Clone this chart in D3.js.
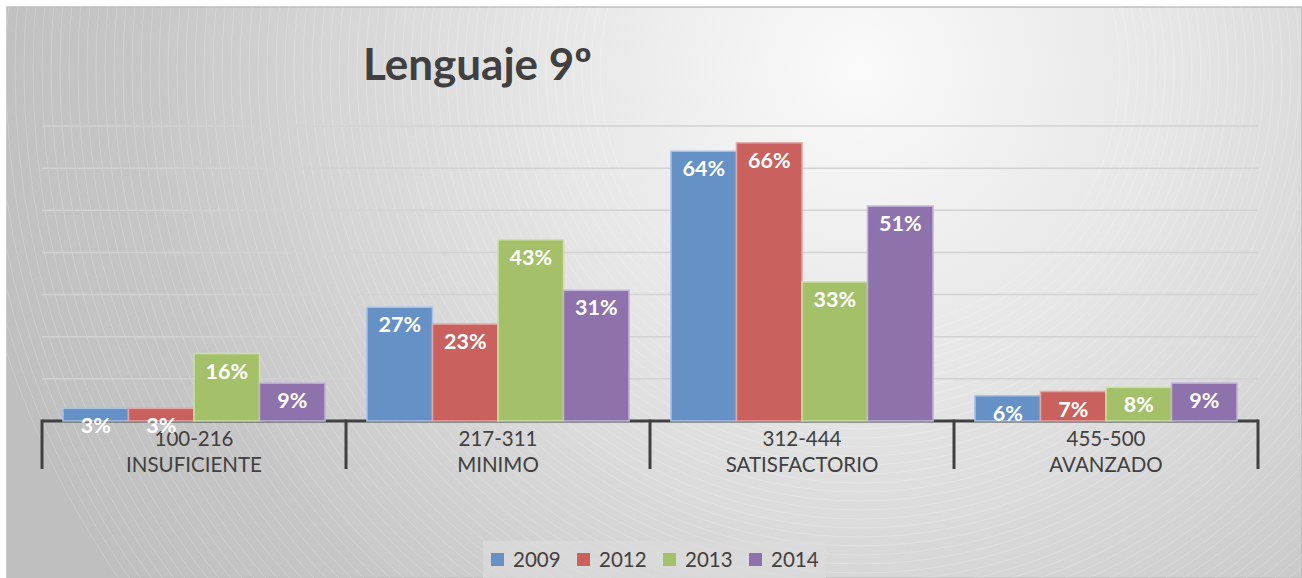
<!DOCTYPE html>
<html>
<head>
<meta charset="utf-8">
<script src="https://cdn.jsdelivr.net/npm/d3@7"></script>
<style>
  body { margin: 0; background: #fff; }
  text { font-family: Lato, "Open Sans", sans-serif; }
</style>
</head>
<body>
<div id="chart"></div>
<script>
var categories = ["100-216|INSUFICIENTE", "217-311|MINIMO", "312-444|SATISFACTORIO", "455-500|AVANZADO"]
var years = ["2009", "2012", "2013", "2014"]
var v2009 = [0.03, 0.27, 0.64, 0.06]
var v2012 = [0.03, 0.23, 0.66, 0.07]
var v2013 = [0.16, 0.43, 0.33, 0.08]
var v2014 = [0.09, 0.31, 0.51, 0.09]
var gridTicks = [0.1, 0.2, 0.3, 0.4, 0.5, 0.6, 0.7]

var colors = ["#6591c6", "#c9625e", "#a4c16a", "#8d72ab"]
var borders = ["#a9c2e3", "#e3a5a3", "#cde0a9", "#c5b4d8"]
var series = [v2009, v2012, v2013, v2014]

var W = 1302, H = 578
var svg = d3.select("#chart").append("svg")
    .attr("width", W).attr("height", H)

var defs = svg.append("defs")
var grad = defs.append("radialGradient")
    .attr("id", "bg").attr("gradientUnits", "userSpaceOnUse")
    .attr("cx", 860).attr("cy", 70).attr("r", 900)
grad.append("stop").attr("offset", "0").attr("stop-color", "#fafafa")
grad.append("stop").attr("offset", "0.35").attr("stop-color", "#e6e6e6")
grad.append("stop").attr("offset", "0.8").attr("stop-color", "#c6c6c6")
grad.append("stop").attr("offset", "1").attr("stop-color", "#bfbfbf")
defs.append("clipPath").attr("id", "clip")
    .append("rect").attr("x", 7).attr("y", 7).attr("width", W - 7).attr("height", H - 7)

svg.append("rect")
    .attr("x", 7).attr("y", 7).attr("width", W - 7).attr("height", H - 7)
    .attr("fill", "url(#bg)")
    .attr("stroke", "#bdbdbd").attr("stroke-width", 1.5)

// faint arc texture
var arcs = svg.append("g").attr("clip-path", "url(#clip)")
for (var r = 260; r < 900; r += 9) {
    arcs.append("circle")
        .attr("cx", 860).attr("cy", 70).attr("r", r)
        .attr("fill", "none")
        .attr("stroke", "#ffffff")
        .attr("stroke-opacity", 0.25)
        .attr("stroke-width", 0.8)
}

var x = d3.scaleBand().domain(categories).range([42, 1258])
var xs = d3.scaleBand().domain(years).range([0, x.bandwidth()]).paddingOuter(0.32)
var y = d3.scaleLinear().domain([0, 0.7]).range([421, 126])

// gridlines
svg.append("g").selectAll("line")
    .data(gridTicks).enter().append("line")
    .attr("x1", 42).attr("x2", 1258)
    .attr("y1", function(d) { return y(d) }).attr("y2", function(d) { return y(d) })
    .attr("stroke", "#d2d2d2").attr("stroke-width", 1.5)

// title
svg.append("text")
    .attr("x", 363).attr("y", 80)
    .attr("font-size", 44).attr("font-weight", "bold")
    .attr("fill", "#404040")
    .text("Lenguaje 9º")

// axis line and tick marks
var axis = svg.append("g")
axis.append("line")
    .attr("x1", x.range()[0]).attr("x2", x.range()[1])
    .attr("y1", y(0)).attr("y2", y(0))
    .attr("stroke", "#404040").attr("stroke-width", 3)
var bounds = categories.map(function(c) { return x(c) }).concat([x.range()[1]])
axis.selectAll(".tick")
    .data(bounds).enter().append("line")
    .attr("x1", function(d) { return d }).attr("x2", function(d) { return d })
    .attr("y1", y(0) - 1.5).attr("y2", 469)
    .attr("stroke", "#404040").attr("stroke-width", 3)

// bars
var rows = []
categories.forEach(function(c, i) {
    years.forEach(function(yr, j) {
        rows.push({ cat: c, year: yr, idx: j, value: series[j][i] })
    })
})

svg.append("g").selectAll("rect")
    .data(rows).enter().append("rect")
    .attr("x", function(d) { return x(d.cat) + xs(d.year) })
    .attr("y", function(d) { return y(d.value) })
    .attr("width", xs.bandwidth())
    .attr("height", function(d) { return y(0) - y(d.value) })
    .attr("fill", function(d) { return colors[d.idx] })
    .attr("stroke", function(d) { return borders[d.idx] })
    .attr("stroke-width", 1.5)

// category labels
var cl = svg.append("g").selectAll("text")
    .data(categories).enter().append("text")
    .attr("x", function(d) { return x(d) + x.bandwidth() / 2 })
    .attr("text-anchor", "middle")
    .attr("font-size", 20.5)
    .attr("fill", "#404040")
cl.append("tspan")
    .attr("x", function(d) { return x(d) + x.bandwidth() / 2 })
    .attr("y", 446)
    .text(function(d) { return d.split("|")[0] })
cl.append("tspan")
    .attr("x", function(d) { return x(d) + x.bandwidth() / 2 })
    .attr("y", 472)
    .text(function(d) { return d.split("|")[1] })

// data labels
svg.append("g").selectAll("text")
    .data(rows).enter().append("text")
    .attr("x", function(d) { return x(d.cat) + xs(d.year) + xs.bandwidth() / 2 })
    .attr("y", function(d) { return y(d.value) + 25 })
    .attr("text-anchor", "middle")
    .attr("font-size", 21.5).attr("font-weight", "bold")
    .attr("fill", "#ffffff")
    .text(function(d) { return Math.round(d.value * 100) + "%" })

// legend
var lg = svg.append("g")
lg.append("rect")
    .attr("x", 483).attr("y", 541).attr("width", 343).attr("height", 37)
    .attr("fill", "#dcdcdc").attr("fill-opacity", 0.7)
var lx = [491, 577, 663, 749]
var li = lg.selectAll(".item")
    .data(years).enter().append("g")
    .attr("transform", function(d, i) { return "translate(" + lx[i] + ",553)" })
li.append("rect")
    .attr("width", 13).attr("height", 13)
    .attr("fill", function(d, i) { return colors[i] })
li.append("text")
    .attr("x", 22).attr("y", 14)
    .attr("font-size", 20.5)
    .attr("fill", "#404040")
    .text(function(d) { return d })
</script>
</body>
</html>
